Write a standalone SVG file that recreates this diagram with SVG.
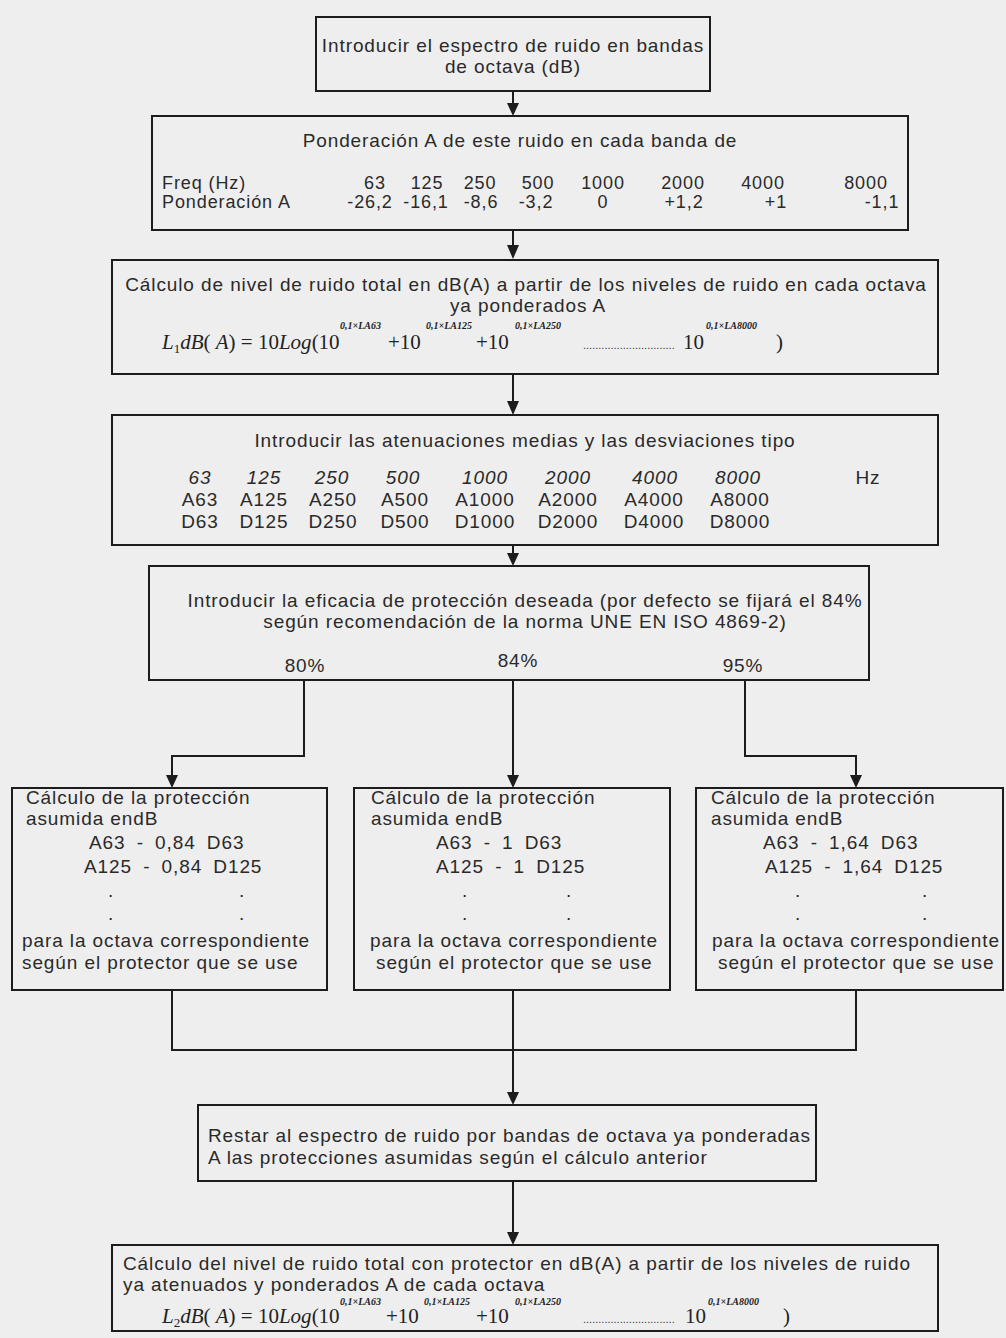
<svg xmlns="http://www.w3.org/2000/svg" width="1006" height="1338" viewBox="0 0 1006 1338">
<defs>
<style>
.box{fill:none;stroke:#1c1c1c;stroke-width:2}
.t{font-family:"Liberation Sans",Arial,sans-serif;font-size:19px;fill:#2a2a2a;letter-spacing:0.9px}
.r{font-size:18px}
.m{text-anchor:middle}
.i{font-style:italic}
.w{word-spacing:5px}
.f{font-family:"Liberation Serif","Times New Roman",serif;font-size:21px;fill:#222}
.fi{font-style:italic}
.sub{font-size:13px}
.sup{font-size:10px;font-style:italic;font-weight:bold}
.dots{font-family:"Liberation Sans",Arial,sans-serif;font-size:11px;fill:#333}
.c{fill:none;stroke:#1c1c1c;stroke-width:2}
.ah{fill:#1c1c1c}
</style>
</defs>
<rect width="1006" height="1338" fill="#eeeeee"/>

<g id="connectors">
<path class="c" d="M513,91 V104"/><path class="ah" d="M507,103 L519,103 L513,116 Z"/>
<path class="c" d="M513,230 V246"/><path class="ah" d="M507,245 L519,245 L513,259 Z"/>
<path class="c" d="M513,374 V402"/><path class="ah" d="M507,401 L519,401 L513,415 Z"/>
<path class="c" d="M513,545 V554"/><path class="ah" d="M507,553 L519,553 L513,566 Z"/>
<path class="c" d="M304,680 V756 H172 V776"/><path class="ah" d="M166,775 L178,775 L172,788 Z"/>
<path class="c" d="M513,680 V776"/><path class="ah" d="M507,775 L519,775 L513,788 Z"/>
<path class="c" d="M745,680 V756 H856 V776"/><path class="ah" d="M850,775 L862,775 L856,788 Z"/>
<path class="c" d="M172,990 V1050 H856 V990"/>
<path class="c" d="M513,990 V1093"/><path class="ah" d="M507,1092 L519,1092 L513,1105 Z"/>
<path class="c" d="M513,1181 V1233"/><path class="ah" d="M507,1232 L519,1232 L513,1245 Z"/>
</g>

<g id="n1">
<rect class="box" x="316" y="17" width="394" height="74"/>
<text class="t m" x="513" y="52">Introducir el espectro de ruido en bandas</text>
<text class="t m" x="513" y="73">de octava (dB)</text>
</g>

<g id="n2">
<rect class="box" x="152" y="116" width="756" height="114"/>
<text class="t m" x="520" y="147">Ponderación A de este ruido en cada banda de</text>
<text class="t r" x="162" y="189">Freq (Hz)</text>
<text class="t r m" y="189"><tspan x="375">63</tspan><tspan x="427">125</tspan><tspan x="480">250</tspan><tspan x="538">500</tspan><tspan x="603">1000</tspan><tspan x="683">2000</tspan><tspan x="763">4000</tspan><tspan x="866">8000</tspan></text>
<text class="t r" x="162" y="208">Ponderación A</text>
<text class="t r m" y="208"><tspan x="370">-26,2</tspan><tspan x="426">-16,1</tspan><tspan x="481">-8,6</tspan><tspan x="536">-3,2</tspan><tspan x="603">0</tspan><tspan x="684">+1,2</tspan><tspan x="776">+1</tspan><tspan x="882">-1,1</tspan></text>
</g>

<g id="n3">
<rect class="box" x="112" y="260" width="826" height="114"/>
<text class="t m" x="526" y="291">Cálculo de nivel de ruido total en dB(A) a partir de los niveles de ruido en cada octava</text>
<text class="t m" x="528" y="312">ya ponderados A</text>
<text class="f" y="349"><tspan x="162" class="fi">L</tspan><tspan class="sub" dy="4">1</tspan><tspan class="fi" dy="-4">dB</tspan><tspan>( </tspan><tspan class="fi">A</tspan><tspan>) = 10</tspan><tspan class="fi">Log</tspan><tspan>(10</tspan><tspan class="sup" x="340" dy="-20">0,1×LA63</tspan><tspan x="388" dy="20">+10</tspan><tspan class="sup" x="426" dy="-20">0,1×LA125</tspan><tspan x="476" dy="20">+10</tspan><tspan class="sup" x="515" dy="-20">0,1×LA250</tspan><tspan x="683" dy="20">10</tspan><tspan class="sup" x="706" dy="-20">0,1×LA8000</tspan><tspan x="776" dy="20">)</tspan></text>
<text class="dots" x="583" y="349">..............................</text>
</g>

<g id="n4">
<rect class="box" x="112" y="415" width="826" height="130"/>
<text class="t m" x="525" y="447">Introducir las atenuaciones medias y las desviaciones tipo</text>
<text class="t m i" y="484"><tspan x="200">63</tspan><tspan x="264">125</tspan><tspan x="332">250</tspan><tspan x="403">500</tspan><tspan x="485">1000</tspan><tspan x="568">2000</tspan><tspan x="655">4000</tspan><tspan x="738">8000</tspan></text>
<text class="t m" x="868" y="484">Hz</text>
<text class="t m" y="506"><tspan x="200">A63</tspan><tspan x="264">A125</tspan><tspan x="333">A250</tspan><tspan x="405">A500</tspan><tspan x="485">A1000</tspan><tspan x="568">A2000</tspan><tspan x="654">A4000</tspan><tspan x="740">A8000</tspan></text>
<text class="t m" y="528"><tspan x="200">D63</tspan><tspan x="264">D125</tspan><tspan x="333">D250</tspan><tspan x="405">D500</tspan><tspan x="485">D1000</tspan><tspan x="568">D2000</tspan><tspan x="654">D4000</tspan><tspan x="740">D8000</tspan></text>
</g>

<g id="n5">
<rect class="box" x="149" y="566" width="720" height="114"/>
<text class="t m" x="525" y="607">Introducir la eficacia de protección deseada (por defecto se fijará el 84%</text>
<text class="t m" x="525" y="628">según recomendación de la norma UNE EN ISO 4869-2)</text>
<text class="t m" x="305" y="672">80%</text>
<text class="t m" x="518" y="667">84%</text>
<text class="t m" x="743" y="672">95%</text>
</g>

<g id="n6">
<rect class="box" x="12" y="788" width="315" height="202"/>
<text class="t" x="26" y="804">Cálculo de la protección</text>
<text class="t" x="26" y="825">asumida endB</text>
<text class="t w" x="89" y="849">A63 - 0,84 D63</text>
<text class="t w" x="84" y="873">A125 - 0,84 D125</text>
<text class="t" x="108" y="897">.</text><text class="t" x="239" y="897">.</text>
<text class="t" x="108" y="920">.</text><text class="t" x="239" y="920">.</text>
<text class="t" x="22" y="947">para la octava correspondiente</text>
<text class="t" x="22" y="969">según el protector que se use</text>
</g>

<g id="n7">
<rect class="box" x="354" y="788" width="316" height="202"/>
<text class="t" x="371" y="804">Cálculo de la protección</text>
<text class="t" x="371" y="825">asumida endB</text>
<text class="t w" x="436" y="849">A63 - 1 D63</text>
<text class="t w" x="436" y="873">A125 - 1 D125</text>
<text class="t" x="462" y="897">.</text><text class="t" x="566" y="897">.</text>
<text class="t" x="462" y="920">.</text><text class="t" x="566" y="920">.</text>
<text class="t" x="370" y="947">para la octava correspondiente</text>
<text class="t" x="376" y="969">según el protector que se use</text>
</g>

<g id="n8">
<rect class="box" x="696" y="788" width="307" height="202"/>
<text class="t" x="711" y="804">Cálculo de la protección</text>
<text class="t" x="711" y="825">asumida endB</text>
<text class="t w" x="763" y="849">A63 - 1,64 D63</text>
<text class="t w" x="765" y="873">A125 - 1,64 D125</text>
<text class="t" x="795" y="897">.</text><text class="t" x="922" y="897">.</text>
<text class="t" x="795" y="920">.</text><text class="t" x="922" y="920">.</text>
<text class="t" x="712" y="947">para la octava correspondiente</text>
<text class="t" x="718" y="969">según el protector que se use</text>
</g>

<g id="n9">
<rect class="box" x="198" y="1105" width="618" height="76"/>
<text class="t" x="208" y="1142">Restar al espectro de ruido por bandas de octava ya ponderadas</text>
<text class="t" x="208" y="1164">A las protecciones asumidas según el cálculo anterior</text>
</g>

<g id="n10">
<rect class="box" x="112" y="1245" width="826" height="86"/>
<text class="t" x="123" y="1270">Cálculo del nivel de ruido total con protector en dB(A) a partir de los niveles de ruido</text>
<text class="t" x="123" y="1291">ya atenuados y ponderados A de cada octava</text>
<text class="f" y="1323"><tspan x="162" class="fi">L</tspan><tspan class="sub" dy="4">2</tspan><tspan class="fi" dy="-4">dB</tspan><tspan>( </tspan><tspan class="fi">A</tspan><tspan>) = 10</tspan><tspan class="fi">Log</tspan><tspan>(10</tspan><tspan class="sup" x="340" dy="-18">0,1×LA63</tspan><tspan x="386" dy="18">+10</tspan><tspan class="sup" x="424" dy="-18">0,1×LA125</tspan><tspan x="476" dy="18">+10</tspan><tspan class="sup" x="515" dy="-18">0,1×LA250</tspan><tspan x="685" dy="18">10</tspan><tspan class="sup" x="708" dy="-18">0,1×LA8000</tspan><tspan x="783" dy="18">)</tspan></text>
<text class="dots" x="583" y="1323">..............................</text>
</g>
</svg>
